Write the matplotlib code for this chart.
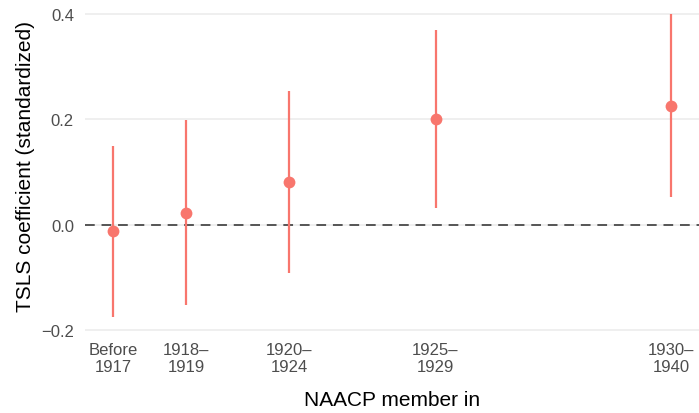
import matplotlib.pyplot as plt

# estimates
labels = ["Before\n1917", "1918–\n1919", "1920–\n1924", "1925–\n1929", "1930–\n1940"]
x_pos = [0.0, 1.0, 2.41, 4.41, 7.63]
coef = [-0.013, 0.022, 0.080, 0.201, 0.226]
ci_low = [-0.176, -0.153, -0.093, 0.031, 0.053]
ci_high = [0.150, 0.198, 0.253, 0.370, 0.400]

plt.rcParams['font.family'] = ['Liberation Sans', 'DejaVu Sans']

fig = plt.figure(figsize=(6.99, 4.14), dpi=100)
ax = fig.add_axes([0.1216, 0.195, 0.8784, 0.805])

red = '#F8766D'
ax.axhline(0, color='#555555', linestyle=(0, (5, 3.5)), linewidth=1.4, zorder=2)
ax.vlines(x_pos, ci_low, ci_high, color=red, linewidth=1.6, zorder=3)
ax.plot(x_pos, coef, 'o', color=red, markersize=8.5, markeredgewidth=0, zorder=4)

span = x_pos[-1] - x_pos[0]
ax.set_xlim(x_pos[0] - 0.05 * span, x_pos[-1] + 0.05 * span)
ylo, yhi = min(ci_low), max(ci_high)
ax.set_ylim(ylo - 0.05 * (yhi - ylo), yhi + 0.05 * (yhi - ylo))

ax.set_yticks([-0.2, 0.0, 0.2, 0.4])
ax.set_yticklabels(['−0.2', '0.0', '0.2', '0.4'])
ax.set_xticks(x_pos)
ax.set_xticklabels(labels)
ax.grid(axis='y', color='#EBEBEB', linewidth=1.1, zorder=0)
ax.set_axisbelow(True)
for s in ax.spines.values():
    s.set_visible(False)
ax.tick_params(axis='both', length=0, labelsize=12, labelcolor='#4D4D4D')
ax.tick_params(axis='x', pad=7)
ax.tick_params(axis='y', pad=8)

ax.set_xlabel('NAACP member in', fontsize=15, labelpad=11)
ax.set_ylabel('TSLS coefficient (standardized)', fontsize=15, labelpad=4)

fig.savefig('out.png', dpi=100)
